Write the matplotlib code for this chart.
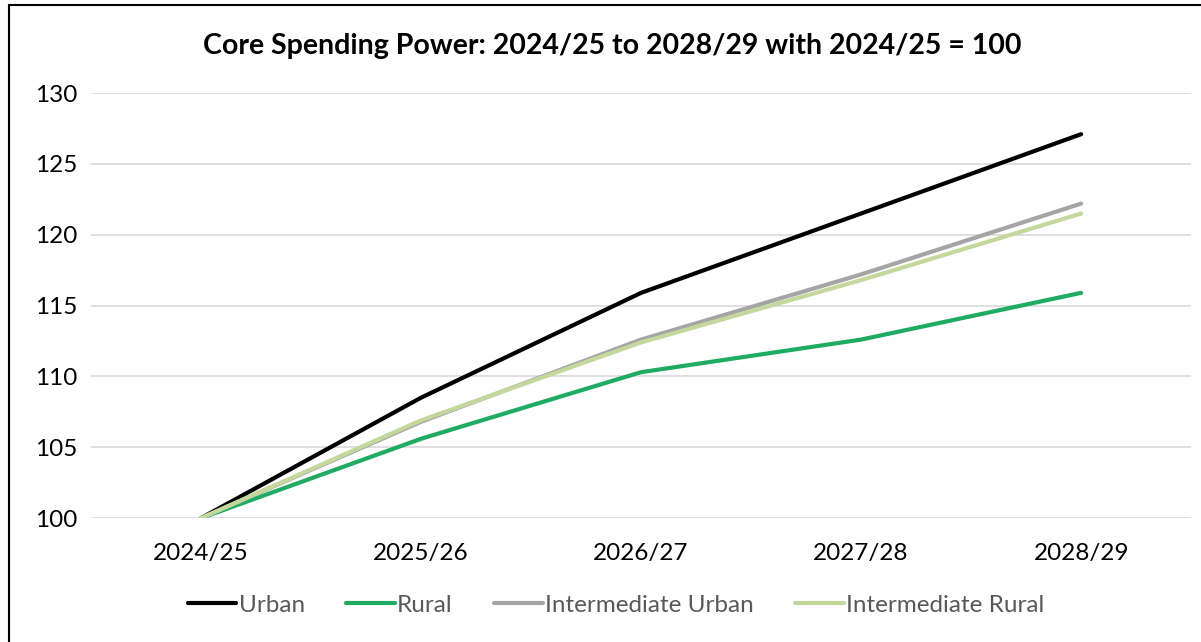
import numpy as np
import matplotlib.pyplot as plt
from matplotlib.patches import Rectangle

plt.rcParams['font.family'] = ['Lato', 'DejaVu Sans']

# data
years = ['2024/25', '2025/26', '2026/27', '2027/28', '2028/29']
urban = [100, 108.5, 115.9, 121.5, 127.1]
rural = [100, 105.6, 110.3, 112.6, 115.9]
inter_urban = [100, 106.8, 112.6, 117.2, 122.2]
inter_rural = [100, 106.9, 112.4, 116.8, 121.5]

series = [('Urban', urban, '#000000'),
          ('Rural', rural, '#1fab63'),
          ('Intermediate Urban', inter_urban, '#a5a5a5'),
          ('Intermediate Rural', inter_rural, '#c4d89e')]

fig = plt.figure(figsize=(12.01, 6.42), dpi=100)
ax = fig.add_axes([0.0758, 0.193, 0.916, 0.662])

x = np.arange(len(years))
for name, vals, col in series:
    ax.plot(x, vals, color=col, lw=3.0, label=name, solid_capstyle='round')

ax.set_xlim(-0.5, 4.5)
ax.set_ylim(100, 130)
ax.set_yticks(np.arange(100, 131, 5))
ax.set_xticks(x)
ax.set_xticklabels(years)
ax.grid(axis='y', color='#d9d9d9', lw=1.2)
ax.set_axisbelow(True)
for s in ax.spines.values():
    s.set_visible(False)
ax.tick_params(length=0, labelsize=17.5, colors='black')
ax.tick_params(axis='x', pad=18)
ax.tick_params(axis='y', pad=10)

fig.text(0.51, 0.929, 'Core Spending Power: 2024/25 to 2028/29 with 2024/25 = 100',
         ha='center', va='center', fontsize=20.5, fontweight='bold')

leg = fig.legend(loc='center', bbox_to_anchor=(0.513, 0.057), ncol=4, frameon=False,
                 fontsize=17.5, handlelength=2.0, columnspacing=1.7, handletextpad=0.1)
for t in leg.get_texts():
    t.set_color('#595959')

# chart border
fig.patches.append(Rectangle((9 / 1201, -0.1), 1.2, 1 - 5 / 642 + 0.1, transform=fig.transFigure,
                             fill=False, edgecolor='black', lw=1.5))

fig.savefig('out.png', dpi=100)
